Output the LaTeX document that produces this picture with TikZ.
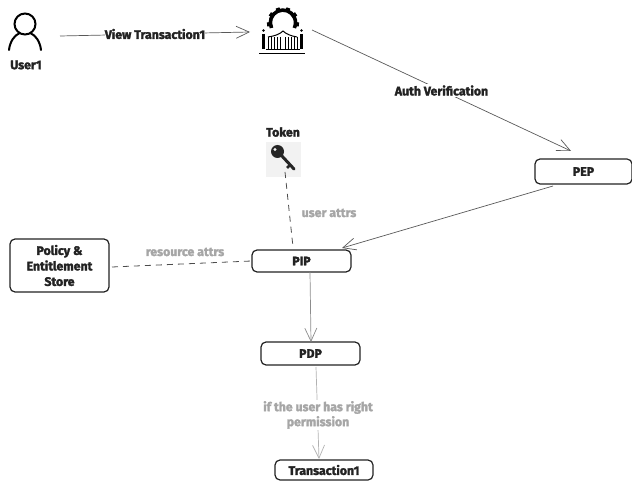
\documentclass[tikz,border=0pt]{standalone}
\usepackage{fontspec}
\setmainfont[BoldFeatures={FakeBold=2.2}]{Fira Sans}
\usetikzlibrary{arrows.meta,calc}
\definecolor{ink}{HTML}{222222}
\tikzset{
  box/.style={draw=ink,line width=1.2pt,rounded corners=5pt,fill=white,align=center,inner sep=0pt,text=ink,font=\bfseries\fontsize{12.3}{15.5}\selectfont},
  lab/.style={font=\bfseries\fontsize{12.3}{15}\selectfont,text=ink,align=center,inner sep=1pt},
  glab/.style={lab,text=gray!70},
  conn/.style={draw=black!65,line width=.7pt,-{Straight Barb[length=13pt,width=12pt,line width=.7pt]}},
  dashline/.style={draw=black!70,line width=.8pt,dash pattern=on 6pt off 5pt},
  icon/.style={draw=black,line width=2pt,line cap=round}
}
\begin{document}
\begin{tikzpicture}[x=1pt,y=-1pt]
\useasboundingbox (0,0) rectangle (632,481);
% nodes
\node[box,minimum width=97pt,minimum height=25pt] (pep) at (583.5,171.5) {PEP};
\node[box,minimum width=99pt,minimum height=22pt] (pip) at (301.5,261) {PIP};
\node[box,minimum width=99pt,minimum height=53pt] (store) at (59.5,265.5) {Policy \&\\Entitlement\\Store};
\node[box,minimum width=99pt,minimum height=23pt] (pdp) at (310.5,353.5) {PDP};
\node[box,minimum width=98pt,minimum height=20pt] (tx) at (324,470) {Transaction1};
\node[minimum width=35pt,minimum height=35pt,inner sep=0pt,fill=black!5] (token) at (283.5,159.5) {};
\node[minimum width=36pt,minimum height=44pt,inner sep=0pt] (user) at (25,32) {};
\node[minimum width=46pt,minimum height=48pt,inner sep=0pt] (gate) at (283,30) {};
% labels
\node[lab] (userlab) at (26,65) {User1};
\node[lab] (tokenlab) at (283,132) {Token};
% user icon
\draw[icon] (25,24) circle (10.5pt);
\draw[icon] (9,50) .. controls (10,41) and (15,35) .. (19,33.5);
\draw[icon] (41,50) .. controls (40,41) and (35,35) .. (31,33.5);
% gate icon
\draw[black,line width=3.6pt] (271.5,28) arc[start angle=205,end angle=-25,radius=12.6pt];
\foreach \a in {-5,35,70,110,145,185}
  \draw[black,line width=4pt] ($(283,23)+(\a:13pt)$) -- ($(283,23)+(\a:16pt)$);
\draw[black,line width=1.5pt] (259,53.5) -- (305,53.5);
\draw[black,line width=1pt] (266,50) -- (300,50);
\draw[black,line width=2.2pt] (263.5,34) -- (263.5,49) (301.5,34) -- (301.5,49);
\draw[black,line width=1pt] (268,37) .. controls (275,36) and (280,34) .. (283,31) .. controls (286,34) and (291,36) .. (297,37);
\foreach \x in {268,271,274,277,280,285,288,291,294,297}
  \draw[black,line width=.9pt] (\x,37) -- (\x,50);
\fill[black] (263.5,30.5) circle (1.4pt) (301.5,30.5) circle (1.4pt);
% key icon
\fill[black!85] (277.5,151.5) circle (6.5pt);
\fill[black!5] (275,149.5) circle (1.6pt);
\draw[black!85,line width=3pt,line cap=round] (281,155) -- (294,169);
\draw[black!85,line width=2.5pt] (290,165) -- (287,168);
% connectors
\coordinate (a1) at (60,36);
\coordinate (a2) at (250,32);
\draw[conn] (a1) -- node[lab,fill=white,inner sep=0pt,midway] (vt) {View Transaction1} (a2);
\coordinate (b1) at (312,30);
\coordinate (b2) at (571,151);
\draw[conn] (b1) -- node[lab,fill=white,pos=.5] (av) {Auth Verification} (b2);
\coordinate (c1) at (553,186);
\coordinate (c2) at (342,248);
\draw[conn] (c1) -- (c2);
\coordinate (d1) at (285,172);
\coordinate (d2) at (293,247);
\draw[dashline] (d1) -- (d2);
\coordinate (e1) at (112,267);
\draw[dashline] (e1) -- (pip.west);
\coordinate (f1) at (310,272);
\coordinate (f2) at (311,342);
\draw[conn,draw=black!45] (f1) -- (f2);
\coordinate (g1) at (316,367);
\coordinate (g2) at (319,459);
\draw[conn,draw=black!30] (g1) -- (g2);
\node[glab,fill=white] (perm) at (318,415) {if the user has right\\permission};
\node[glab] (ua) at (329,213) {user attrs};
\node[glab] (ra) at (185,252) {resource attrs};
\end{tikzpicture}
\end{document}
